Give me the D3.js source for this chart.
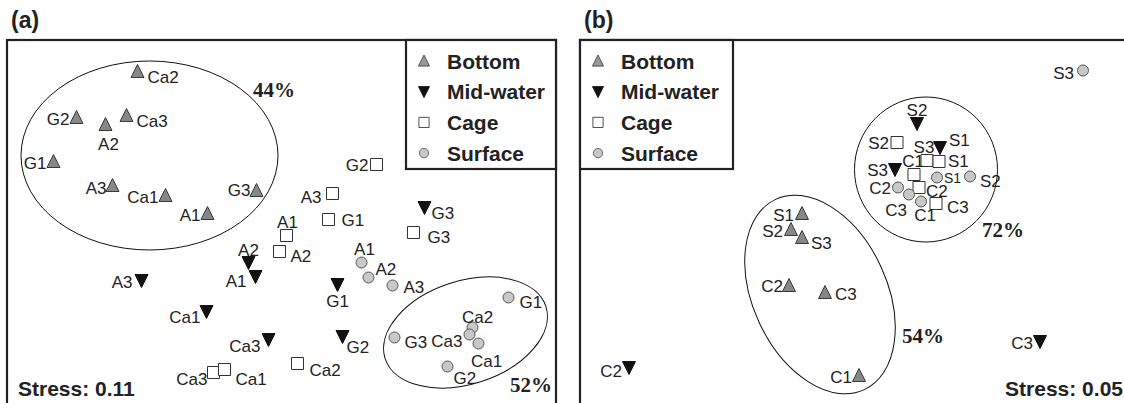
<!DOCTYPE html>
<html>
<head>
<meta charset="utf-8">
<script src="https://cdnjs.cloudflare.com/ajax/libs/d3/7.8.5/d3.min.js"></script>
<style>
  body { margin: 0; background: #fff; }
  svg { display: block; }
</style>
</head>
<body>
<div id="chart-area"></div>
<script>
// NMDS ordinations, values (arbitrary MDS units)

// ---- panel (a) ----
var bottomA_names = ['Ca2', 'G2', 'A2', 'Ca3', 'G1', 'A3', 'Ca1', 'G3', 'A1']
var bottomA_x = [-1.44, -2.05, -1.76, -1.55, -2.28, -1.69, -1.16, -0.25, -0.74]
var bottomA_y = [1.51, 1.05, 0.98, 1.07, 0.61, 0.37, 0.27, 0.32, 0.09]

var midA_names = ['A2', 'A1', 'A3', 'Ca1', 'Ca3', 'G3', 'G1', 'G2']
var midA_x = [-0.33, -0.26, -1.40, -0.75, -0.13, 1.43, 0.56, 0.61]
var midA_y = [-0.40, -0.54, -0.58, -0.89, -1.17, 0.15, -0.62, -1.14]

var cageA_names = ['G2', 'A3', 'G1', 'A1', 'A2', 'G3', 'Ca2', 'Ca3', 'Ca1']
var cageA_x = [0.95, 0.51, 0.47, 0.05, -0.02, 1.32, 0.16, -0.68, -0.57]
var cageA_y = [0.58, 0.29, 0.03, -0.13, -0.29, -0.10, -1.41, -1.50, -1.47]

var surfA_names = ['A1', 'A2', 'A3', 'G1', 'Ca2', 'Ca3', 'Ca1', 'G3', 'G2']
var surfA_x = [0.80, 0.87, 1.11, 2.27, 1.91, 1.88, 1.97, 1.13, 1.66]
var surfA_y = [-0.40, -0.55, -0.63, -0.75, -1.05, -1.12, -1.21, -1.15, -1.44]

// similarity groups: [cx, cy, rx, ry, rotation]
var groupsA = [[-1.32, 0.67, 1.285, 0.945, 0], [1.84, -1.10, 0.845, 0.515, -18]]
var groupsA_pct = ['44%', '52%']
var stressA = 'Stress: 0.11'

// ---- panel (b) ----
var bottomB_names = ['S1', 'S2', 'S3', 'C2', 'C3', 'C1']
var bottomB_x = [-0.53, -0.64, -0.53, -0.66, -0.30, 0.04]
var bottomB_y = [0.09, -0.07, -0.15, -0.63, -0.70, -1.53]

var midB_names = ['S2', 'S1', 'S3', 'C2', 'C3']
var midB_x = [0.62, 0.85, 0.40, -2.26, 1.85]
var midB_y = [0.99, 0.75, 0.53, -1.45, -1.19]

var cageB_names = ['S2', 'S3', 'S1', 'C1', 'C2', 'C3']
var cageB_x = [0.42, 0.72, 0.84, 0.59, 0.64, 0.81]
var cageB_y = [0.80, 0.62, 0.61, 0.48, 0.35, 0.19]

var surfB_names = ['S3', 'S1', 'S2', 'C2', 'C3', 'C1']
var surfB_x = [2.28, 0.82, 1.15, 0.43, 0.54, 0.66]
var surfB_y = [1.52, 0.45, 0.46, 0.35, 0.28, 0.21]

var groupsB = [[0.71, 0.53, 0.715, 0.725, 0], [-0.35, -0.72, 0.67, 1.05, -25]]
var groupsB_pct = ['72%', '54%']
var stressB = 'Stress: 0.05'

var legendNames = ['Bottom', 'Mid-water', 'Cage', 'Surface']
var legendTypes = ['bottom', 'mid', 'cage', 'surface']

// ---- label placement (anchor, dx, dy in px, optional font size), kept apart from the data ----
var labA = {
  bottom: [['s',10,11], ['e',-7,7], ['m',3,25], ['s',10,11], ['e',-7,7], ['e',-6,8], ['e',-7,7], ['e',-6,5], ['e',-7,7]],
  mid: [['m',0,-7], ['e',-9,10], ['e',-9,7], ['e',-6,11], ['e',-8,12], ['s',7,11], ['m',0,22], ['s',4,16]],
  cage: [['e',-8,6], ['e',-11,9], ['s',13,6], ['m',1,-8], ['s',11,10], ['s',14,10], ['s',12,12], ['e',-6,12], ['s',11,15]],
  surface: [['m',3,-8], ['s',7,-3], ['s',11,7], ['s',11,10], ['m',5,-5], ['e',-7,12], ['m',8,23], ['s',10,10], ['s',6,17]]
}
var labB = {
  bottom: [['e',-8,7], ['e',-8,7], ['s',9,11], ['e',-6,6], ['s',10,7], ['e',-7,7]],
  mid: [['m',0,-8], ['s',9,-2], ['e',-7,6], ['e',-7,9], ['e',-7,7]],
  cage: [['e',-8,6], ['m',-3,-8], ['s',9,5], ['m',-1,-8], ['s',7,9], ['s',11,9]],
  surface: [['e',-9,8], ['s',7,5,14], ['s',10,10], ['e',-7,6], ['m',-13,21], ['m',4,19]]
}
var pctPosA = [[-0.285, 1.255], [2.285, -1.695]]
var pctPosB = [[1.27, -0.14], [0.47, -1.20]]

// ---- drawing ----
var width = 1124, height = 403

var svg = d3.select('#chart-area').append('svg')
  .attr('width', width)
  .attr('height', height)

var shapes = {
  bottom: 'M0,-7L6.5,6L-6.5,6Z',
  mid: 'M0,7L6.5,-6L-6.5,-6Z',
  cage: 'M-6,-6H6V6H-6Z',
  surface: d3.symbol(d3.symbolCircle, 95)()
}
var fills = {bottom: '#878787', mid: '#111', cage: '#fff', surface: '#c8c8c8'}
var strokes = {bottom: '#3a3a3a', mid: '#111', cage: '#333', surface: '#555'}
var anchors = {s: 'start', m: 'middle', e: 'end'}

function drawPanel(p) {
  var g = svg.append('g')
  var x = p.x, y = p.y

  // frame (bottom edge sits below the window like in the source figure)
  g.append('rect')
    .attr('x', x.range()[0])
    .attr('y', y.range()[1])
    .attr('width', x.range()[1] - x.range()[0])
    .attr('height', y.range()[0] - y.range()[1])
    .attr('fill', 'none')
    .attr('stroke', '#222')
    .attr('stroke-width', 2.2)

  g.append('text')
    .attr('x', x.range()[0] + 4)
    .attr('y', 28)
    .attr('font-family', "'Liberation Sans', Arial, sans-serif")
    .attr('font-weight', 'bold')
    .attr('font-size', '23px')
    .attr('fill', '#222')
    .text(p.title)

  // group ellipses
  g.selectAll('ellipse')
    .data(p.groups)
    .enter()
    .append('ellipse')
    .attr('transform', function(d){
      return 'translate(' + x(d[0]) + ',' + y(d[1]) + ') rotate(' + d[4] + ')'
    })
    .attr('rx', function(d){ return x(d[0] + d[2]) - x(d[0]) })
    .attr('ry', function(d){ return y(d[1]) - y(d[1] + d[3]) })
    .attr('fill', 'none')
    .attr('stroke', '#111')
    .attr('stroke-width', 1)

  g.selectAll('.pct')
    .data(p.pct)
    .enter()
    .append('text')
    .attr('class', 'pct')
    .attr('x', function(d, i){ return x(p.pctPos[i][0]) })
    .attr('y', function(d, i){ return y(p.pctPos[i][1]) })
    .attr('font-family', "'Liberation Serif', 'Times New Roman', serif")
    .attr('font-weight', 'bold')
    .attr('font-size', '21px')
    .attr('fill', '#222')
    .text(function(d){ return d })

  // points + labels
  p.series.forEach(function(s){
    var pts = s.names.map(function(n, i){
      return {name: n, x: s.xs[i], y: s.ys[i], lab: p.labs[s.type][i]}
    })
    g.selectAll('.pt-' + s.type)
      .data(pts)
      .enter()
      .append('path')
      .attr('class', 'pt-' + s.type)
      .attr('transform', function(d){ return 'translate(' + x(d.x) + ',' + y(d.y) + ')' })
      .attr('d', shapes[s.type])
      .attr('fill', fills[s.type])
      .attr('stroke', strokes[s.type])
      .attr('stroke-width', 1)

    g.selectAll('.lb-' + s.type)
      .data(pts)
      .enter()
      .append('text')
      .attr('class', 'lb-' + s.type)
      .attr('x', function(d){ return x(d.x) + d.lab[1] })
      .attr('y', function(d){ return y(d.y) + d.lab[2] })
      .attr('text-anchor', function(d){ return anchors[d.lab[0]] })
      .attr('font-family', "'Liberation Sans', Arial, sans-serif")
      .attr('font-size', function(d){ return (d.lab[3] || 17) + 'px' })
      .attr('fill', '#222')
      .text(function(d){ return d.name })
  })

  // legend box
  var lg = g.append('g')
    .attr('transform', 'translate(' + p.legendX + ',' + y.range()[1] + ')')
  lg.append('rect')
    .attr('width', p.legendW)
    .attr('height', 129)
    .attr('fill', '#fff')
    .attr('stroke', '#222')
    .attr('stroke-width', 2.2)
  lg.selectAll('path')
    .data(legendTypes)
    .enter()
    .append('path')
    .attr('transform', function(d, i){ return 'translate(18,' + (21 + i * 30.7) + ') scale(0.85)' })
    .attr('d', function(d){ return shapes[d] })
    .attr('fill', function(d){ return d == 'bottom' ? '#999' : fills[d] })
    .attr('stroke', function(d){ return strokes[d] })
    .attr('stroke-width', 1)
  lg.selectAll('text')
    .data(legendNames)
    .enter()
    .append('text')
    .attr('x', 41)
    .attr('y', function(d, i){ return 28.5 + i * 30.7 })
    .attr('font-family', "'Liberation Sans', Arial, sans-serif")
    .attr('font-weight', 'bold')
    .attr('font-size', '21px')
    .attr('fill', '#222')
    .text(function(d){ return d })

  g.append('text')
    .attr('x', p.stressX)
    .attr('y', 396)
    .attr('text-anchor', p.stressAnchor)
    .attr('font-family', "'Liberation Sans', Arial, sans-serif")
    .attr('font-weight', 'bold')
    .attr('font-size', '21px')
    .attr('fill', '#222')
    .text(p.stress)
}

// scales: 100 px per MDS unit in both panels
var xA = d3.scaleLinear().domain([-2.745, 2.745]).range([7, 556])
var yA = d3.scaleLinear().domain([-1.825, 1.825]).range([405, 40])
var xB = d3.scaleLinear().domain([-2.75, 2.75]).range([580, 1130])
var yB = d3.scaleLinear().domain([-1.825, 1.825]).range([405, 40])

drawPanel({
  title: '(a)', x: xA, y: yA,
  series: [
    {type: 'bottom', names: bottomA_names, xs: bottomA_x, ys: bottomA_y},
    {type: 'mid', names: midA_names, xs: midA_x, ys: midA_y},
    {type: 'cage', names: cageA_names, xs: cageA_x, ys: cageA_y},
    {type: 'surface', names: surfA_names, xs: surfA_x, ys: surfA_y}
  ],
  labs: labA, groups: groupsA, pct: groupsA_pct, pctPos: pctPosA,
  legendX: 406, legendW: 150,
  stress: stressA, stressX: 18, stressAnchor: 'start'
})

drawPanel({
  title: '(b)', x: xB, y: yB,
  series: [
    {type: 'bottom', names: bottomB_names, xs: bottomB_x, ys: bottomB_y},
    {type: 'mid', names: midB_names, xs: midB_x, ys: midB_y},
    {type: 'cage', names: cageB_names, xs: cageB_x, ys: cageB_y},
    {type: 'surface', names: surfB_names, xs: surfB_x, ys: surfB_y}
  ],
  labs: labB, groups: groupsB, pct: groupsB_pct, pctPos: pctPosB,
  legendX: 580, legendW: 153,
  stress: stressB, stressX: 1123, stressAnchor: 'end'
})
</script>
</body>
</html>
